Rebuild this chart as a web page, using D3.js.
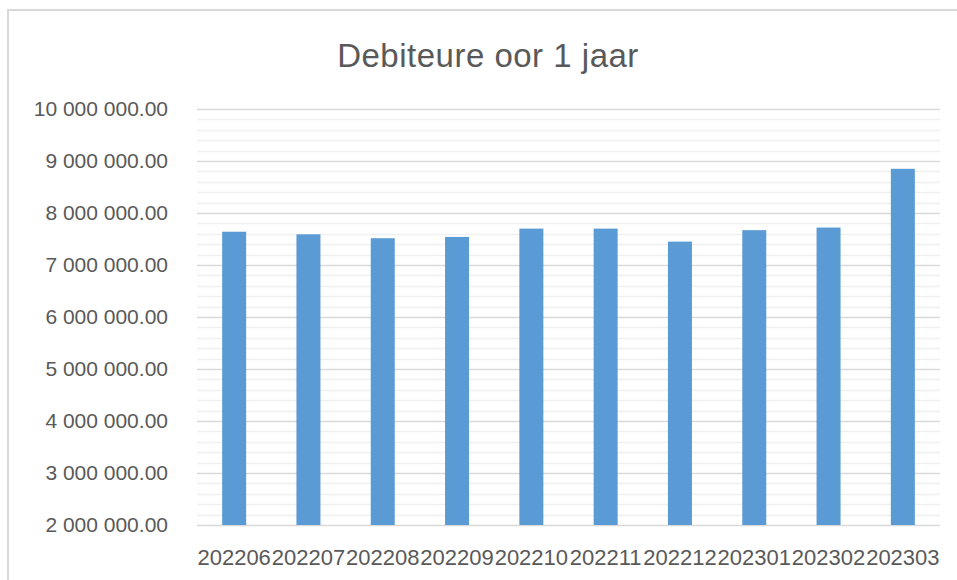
<!DOCTYPE html>
<html>
<head>
<meta charset="utf-8">
<script src="https://cdn.jsdelivr.net/npm/d3@7"></script>
<style>
	body { margin: 0; background: #fff; }
	svg { display: block; font-family: "Liberation Sans", Arial, sans-serif; }
</style>
</head>
<body>
<svg id="chart" width="957" height="580"></svg>
<script>
// data
const months = [ '202206', '202207', '202208', '202209', '202210', '202211', '202212', '202301', '202302', '202303' ];
const debtors = [ 7640000, 7590000, 7515000, 7540000, 7700000, 7700000, 7450000, 7670000, 7720000, 8850000 ];
const yDomain = [ 2000000, 10000000 ];
const majorStep = 1000000;
const minorStep = 200000;

const title = 'Debiteure oor 1 jaar';

const svg = d3.select( '#chart' );
const margin = { top: 109, right: 17, bottom: 55, left: 197 };
const width = 957 - margin.left - margin.right;
const height = 580 - margin.top - margin.bottom;

const textColor = '#595959';

// number format with space as thousands separator
const locale = d3.formatLocale( { decimal: '.', thousands: ' ', grouping: [ 3 ], currency: [ '', '' ] } );
const fmt = locale.format( ',.2f' );

// chart frame (only top + left edge visible)
svg.append( 'line' )
	.attr( 'x1', 7 ).attr( 'x2', 957 ).attr( 'y1', 10 ).attr( 'y2', 10 )
	.attr( 'stroke', '#d9d9d9' ).attr( 'stroke-width', 2 );
svg.append( 'line' )
	.attr( 'x1', 8 ).attr( 'x2', 8 ).attr( 'y1', 9 ).attr( 'y2', 580 )
	.attr( 'stroke', '#d9d9d9' ).attr( 'stroke-width', 2 );

svg.append( 'text' )
	.attr( 'x', 488 )
	.attr( 'y', 67 )
	.attr( 'text-anchor', 'middle' )
	.attr( 'fill', textColor )
	.style( 'font-size', '33px' )
	.style( 'letter-spacing', '0.5px' )
	.text( title );

const g = svg.append( 'g' )
	.attr( 'transform', `translate(${ margin.left },${ margin.top })` );

const y = d3.scaleLinear()
	.domain( yDomain )
	.range( [ height, 0 ] );

const x = d3.scaleBand()
	.domain( months )
	.range( [ 0, width ] )
	.paddingInner( 0.677 )
	.paddingOuter( 0.677 / 2 );

// minor then major gridlines
const minorTicks = d3.range( yDomain[ 0 ], yDomain[ 1 ] + 1, minorStep )
	.filter( v => v % majorStep !== 0 );
const majorTicks = d3.range( yDomain[ 0 ], yDomain[ 1 ] + 1, majorStep );

g.append( 'g' )
	.selectAll( 'line' )
	.data( minorTicks )
	.join( 'line' )
	.attr( 'x1', 0 ).attr( 'x2', width )
	.attr( 'y1', d => Math.round( y( d ) ) + 0.5 )
	.attr( 'y2', d => Math.round( y( d ) ) + 0.5 )
	.attr( 'stroke', '#f0f0f0' )
	.attr( 'stroke-width', 1.5 );

g.append( 'g' )
	.selectAll( 'line' )
	.data( majorTicks )
	.join( 'line' )
	.attr( 'x1', 0 ).attr( 'x2', width )
	.attr( 'y1', d => Math.round( y( d ) ) + 0.5 )
	.attr( 'y2', d => Math.round( y( d ) ) + 0.5 )
	.attr( 'stroke', '#d9d9d9' )
	.attr( 'stroke-width', 1.5 );

// bars
g.append( 'g' )
	.selectAll( 'rect' )
	.data( debtors )
	.join( 'rect' )
	.attr( 'x', ( d, i ) => x( months[ i ] ) )
	.attr( 'width', x.bandwidth() )
	.attr( 'y', d => y( d ) )
	.attr( 'height', d => y( yDomain[ 0 ] ) - y( d ) )
	.attr( 'fill', '#5b9bd5' );

// y axis
const yAxis = d3.axisLeft( y )
	.tickValues( majorTicks )
	.tickFormat( fmt )
	.tickSize( 0 )
	.tickPadding( 29 );

const yG = g.append( 'g' ).call( yAxis );
yG.select( '.domain' ).remove();
yG.selectAll( 'text' )
	.attr( 'fill', textColor )
	.style( 'font-size', '21px' )
	.style( 'font-family', '"Liberation Sans", Arial, sans-serif' );

// x axis
const xAxis = d3.axisBottom( x )
	.tickSize( 0 )
	.tickPadding( 24 );

const xG = g.append( 'g' )
	.attr( 'transform', `translate(0,${ height })` )
	.call( xAxis );
xG.select( '.domain' ).remove();
xG.selectAll( 'text' )
	.attr( 'fill', textColor )
	.style( 'font-size', '22px' )
	.style( 'font-family', '"Liberation Sans", Arial, sans-serif' );
</script>
</body>
</html>
